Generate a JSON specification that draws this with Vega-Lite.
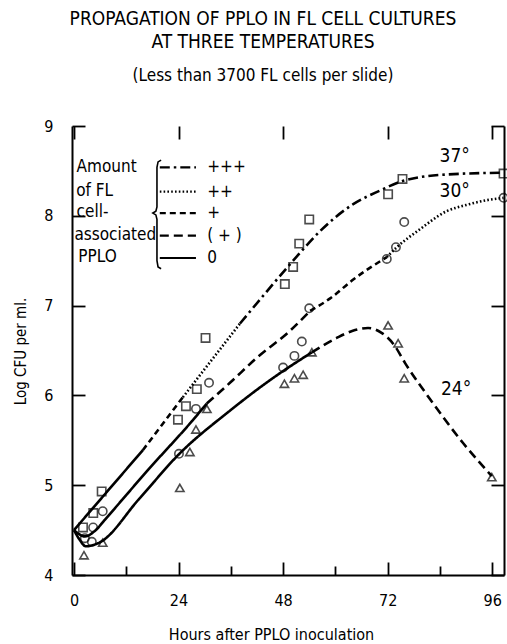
{
  "$schema": "https://vega.github.io/schema/vega-lite/v6.json",
  "width": 432,
  "height": 449,
  "autosize": {"type": "none"},
  "padding": {"left": 72, "top": 126, "right": 3, "bottom": 69},
  "background": "white",
  "config": {
    "view": {"stroke": null},
    "font": "Liberation Sans Narrow, DejaVu Sans Condensed, Liberation Sans"
  },
  "title": {
    "text": ["PROPAGATION OF PPLO IN FL CELL CULTURES", "AT THREE TEMPERATURES"],
    "subtitle": "(Less than 3700 FL cells per slide)",
    "anchor": "middle",
    "frame": "group",
    "dx": -25,
    "offset": 34,
    "font": "Liberation Sans Narrow, DejaVu Sans Condensed, Liberation Sans",
    "fontSize": 19,
    "fontWeight": "normal",
    "lineHeight": 23,
    "color": "black",
    "subtitleFont": "Liberation Sans Narrow, DejaVu Sans Condensed, Liberation Sans",
    "subtitleFontSize": 17,
    "subtitleColor": "black",
    "subtitlePadding": 16
  },
  "datasets": {
    "points": [
      {"temp": "37", "hours": 2.07, "logcfu": 4.53},
      {"temp": "37", "hours": 4.43, "logcfu": 4.69},
      {"temp": "37", "hours": 6.36, "logcfu": 4.93},
      {"temp": "37", "hours": 23.87, "logcfu": 5.73},
      {"temp": "37", "hours": 25.7, "logcfu": 5.88},
      {"temp": "37", "hours": 28.2, "logcfu": 6.07},
      {"temp": "37", "hours": 30.2, "logcfu": 6.64},
      {"temp": "37", "hours": 48.4, "logcfu": 7.24},
      {"temp": "37", "hours": 50.3, "logcfu": 7.43},
      {"temp": "37", "hours": 51.7, "logcfu": 7.69},
      {"temp": "37", "hours": 54.0, "logcfu": 7.96},
      {"temp": "37", "hours": 72.1, "logcfu": 8.24},
      {"temp": "37", "hours": 75.4, "logcfu": 8.41},
      {"temp": "37", "hours": 98.6, "logcfu": 8.47},
      {"temp": "30", "hours": 2.5, "logcfu": 4.41},
      {"temp": "30", "hours": 4.1, "logcfu": 4.37},
      {"temp": "30", "hours": 4.4, "logcfu": 4.53},
      {"temp": "30", "hours": 6.6, "logcfu": 4.71},
      {"temp": "30", "hours": 24.1, "logcfu": 5.35},
      {"temp": "30", "hours": 28.0, "logcfu": 5.85},
      {"temp": "30", "hours": 31.0, "logcfu": 6.14},
      {"temp": "30", "hours": 48.0, "logcfu": 6.31},
      {"temp": "30", "hours": 50.6, "logcfu": 6.44},
      {"temp": "30", "hours": 52.3, "logcfu": 6.6},
      {"temp": "30", "hours": 54.0, "logcfu": 6.97},
      {"temp": "30", "hours": 71.8, "logcfu": 7.52},
      {"temp": "30", "hours": 73.9, "logcfu": 7.65},
      {"temp": "30", "hours": 75.8, "logcfu": 7.93},
      {"temp": "30", "hours": 98.6, "logcfu": 8.2},
      {"temp": "24", "hours": 2.3, "logcfu": 4.22},
      {"temp": "24", "hours": 6.6, "logcfu": 4.36},
      {"temp": "24", "hours": 24.3, "logcfu": 4.97},
      {"temp": "24", "hours": 26.6, "logcfu": 5.37},
      {"temp": "24", "hours": 28.0, "logcfu": 5.62},
      {"temp": "24", "hours": 30.5, "logcfu": 5.85},
      {"temp": "24", "hours": 48.3, "logcfu": 6.13},
      {"temp": "24", "hours": 50.6, "logcfu": 6.19},
      {"temp": "24", "hours": 52.6, "logcfu": 6.23},
      {"temp": "24", "hours": 54.6, "logcfu": 6.48},
      {"temp": "24", "hours": 72.1, "logcfu": 6.78},
      {"temp": "24", "hours": 74.4, "logcfu": 6.58},
      {"temp": "24", "hours": 75.8, "logcfu": 6.19},
      {"temp": "24", "hours": 95.9, "logcfu": 5.09}
    ],
    "curves": [
      {"seg": "37a", "style": "0", "hours": 0, "logcfu": 4.5},
      {"seg": "37a", "style": "0", "hours": 15.8, "logcfu": 5.39},
      {"seg": "37b", "style": "+", "hours": 15.8, "logcfu": 5.39},
      {"seg": "37b", "style": "+", "hours": 25.0, "logcfu": 5.98},
      {"seg": "37c", "style": "++", "hours": 25.0, "logcfu": 5.98},
      {"seg": "37c", "style": "++", "hours": 38.1, "logcfu": 6.8},
      {"seg": "37d", "style": "+++", "hours": 38.1, "logcfu": 6.8},
      {"seg": "37d", "style": "+++", "hours": 45.0, "logcfu": 7.2},
      {"seg": "37d", "style": "+++", "hours": 50.3, "logcfu": 7.5},
      {"seg": "37d", "style": "+++", "hours": 56.5, "logcfu": 7.83},
      {"seg": "37d", "style": "+++", "hours": 64.1, "logcfu": 8.13},
      {"seg": "37d", "style": "+++", "hours": 70.2, "logcfu": 8.28},
      {"seg": "37d", "style": "+++", "hours": 75.6, "logcfu": 8.39},
      {"seg": "37d", "style": "+++", "hours": 85.5, "logcfu": 8.46},
      {"seg": "37d", "style": "+++", "hours": 98.6, "logcfu": 8.48},
      {"seg": "30a", "style": "0", "hours": 0, "logcfu": 4.5},
      {"seg": "30a", "style": "0", "hours": 2.5, "logcfu": 4.43},
      {"seg": "30a", "style": "0", "hours": 5.0, "logcfu": 4.5},
      {"seg": "30a", "style": "0", "hours": 7.0, "logcfu": 4.61},
      {"seg": "30a", "style": "0", "hours": 17.0, "logcfu": 5.17},
      {"seg": "30a", "style": "0", "hours": 27.2, "logcfu": 5.72},
      {"seg": "30a", "style": "0", "hours": 30.5, "logcfu": 5.91},
      {"seg": "30b", "style": "(+)", "hours": 30.5, "logcfu": 5.91},
      {"seg": "30b", "style": "(+)", "hours": 35.8, "logcfu": 6.14},
      {"seg": "30b", "style": "(+)", "hours": 42.0, "logcfu": 6.42},
      {"seg": "30b", "style": "(+)", "hours": 49.6, "logcfu": 6.72},
      {"seg": "30b", "style": "(+)", "hours": 54.2, "logcfu": 6.94},
      {"seg": "30c", "style": "+", "hours": 54.2, "logcfu": 6.94},
      {"seg": "30c", "style": "+", "hours": 58.8, "logcfu": 7.08},
      {"seg": "30c", "style": "+", "hours": 64.1, "logcfu": 7.29},
      {"seg": "30c", "style": "+", "hours": 71.8, "logcfu": 7.54},
      {"seg": "30d", "style": "++", "hours": 71.8, "logcfu": 7.54},
      {"seg": "30d", "style": "++", "hours": 74.1, "logcfu": 7.65},
      {"seg": "30d", "style": "++", "hours": 79.4, "logcfu": 7.85},
      {"seg": "30d", "style": "++", "hours": 85.5, "logcfu": 8.05},
      {"seg": "30d", "style": "++", "hours": 90.0, "logcfu": 8.12},
      {"seg": "30d", "style": "++", "hours": 95.5, "logcfu": 8.18},
      {"seg": "30d", "style": "++", "hours": 98.6, "logcfu": 8.2},
      {"seg": "24a", "style": "0", "hours": 0, "logcfu": 4.5},
      {"seg": "24a", "style": "0", "hours": 1.2, "logcfu": 4.4},
      {"seg": "24a", "style": "0", "hours": 2.75, "logcfu": 4.32},
      {"seg": "24a", "style": "0", "hours": 5.8, "logcfu": 4.36},
      {"seg": "24a", "style": "0", "hours": 15.0, "logcfu": 4.85},
      {"seg": "24a", "style": "0", "hours": 24.2, "logcfu": 5.35},
      {"seg": "24a", "style": "0", "hours": 35.8, "logcfu": 5.83},
      {"seg": "24a", "style": "0", "hours": 45.0, "logcfu": 6.17},
      {"seg": "24a", "style": "0", "hours": 54.6, "logcfu": 6.48},
      {"seg": "24b", "style": "(+)", "hours": 54.6, "logcfu": 6.48},
      {"seg": "24b", "style": "(+)", "hours": 60.3, "logcfu": 6.64},
      {"seg": "24b", "style": "(+)", "hours": 64.0, "logcfu": 6.72},
      {"seg": "24b", "style": "(+)", "hours": 67.5, "logcfu": 6.75},
      {"seg": "24b", "style": "(+)", "hours": 70.5, "logcfu": 6.7},
      {"seg": "24b", "style": "(+)", "hours": 73.5, "logcfu": 6.56},
      {"seg": "24b", "style": "(+)", "hours": 76.0, "logcfu": 6.36},
      {"seg": "24b", "style": "(+)", "hours": 81.7, "logcfu": 5.96},
      {"seg": "24b", "style": "(+)", "hours": 89.3, "logcfu": 5.47},
      {"seg": "24b", "style": "(+)", "hours": 95.9, "logcfu": 5.1}
    ],
    "legendLines": [
      {"style": "+++", "hours": 19.7, "logcfu": 8.54},
      {"style": "+++", "hours": 28.0, "logcfu": 8.54},
      {"style": "++", "hours": 19.7, "logcfu": 8.27},
      {"style": "++", "hours": 28.0, "logcfu": 8.27},
      {"style": "+", "hours": 19.7, "logcfu": 8.03},
      {"style": "+", "hours": 28.0, "logcfu": 8.03},
      {"style": "(+)", "hours": 19.7, "logcfu": 7.78},
      {"style": "(+)", "hours": 28.0, "logcfu": 7.78},
      {"style": "0", "hours": 19.7, "logcfu": 7.53},
      {"style": "0", "hours": 28.0, "logcfu": 7.53}
    ],
    "brace": [
      {"o": 1, "hours": 20.0, "logcfu": 8.62},
      {"o": 2, "hours": 19.3, "logcfu": 8.6},
      {"o": 3, "hours": 19.05, "logcfu": 8.54},
      {"o": 4, "hours": 19.05, "logcfu": 8.1},
      {"o": 5, "hours": 18.8, "logcfu": 8.05},
      {"o": 6, "hours": 18.1, "logcfu": 8.03},
      {"o": 7, "hours": 18.8, "logcfu": 8.01},
      {"o": 8, "hours": 19.05, "logcfu": 7.96},
      {"o": 9, "hours": 19.05, "logcfu": 7.5},
      {"o": 10, "hours": 19.3, "logcfu": 7.43},
      {"o": 11, "hours": 20.0, "logcfu": 7.41}
    ],
    "labels": [
      {"t": "Amount", "hours": 0.6, "logcfu": 8.54},
      {"t": "of FL", "hours": 0.5, "logcfu": 8.28},
      {"t": "cell-", "hours": 0.6, "logcfu": 8.04},
      {"t": "associated", "hours": 0.1, "logcfu": 7.79},
      {"t": "PPLO", "hours": 1.0, "logcfu": 7.54},
      {"t": "+++", "hours": 30.6, "logcfu": 8.54},
      {"t": "++", "hours": 30.6, "logcfu": 8.27},
      {"t": "+", "hours": 30.6, "logcfu": 8.03},
      {"t": "( + )", "hours": 30.6, "logcfu": 7.78},
      {"t": "0", "hours": 30.6, "logcfu": 7.53}
    ],
    "temps": [
      {"t": "37°", "hours": 87.4, "logcfu": 8.67},
      {"t": "30°", "hours": 87.4, "logcfu": 8.28},
      {"t": "24°", "hours": 87.7, "logcfu": 6.07}
    ]
  },
  "resolve": {"axis": {"x": "independent", "y": "independent"}},
  "layer": [
    {
      "data": {"name": "points"},
      "mark": {"type": "point", "filled": false, "stroke": "black", "strokeWidth": 1.6, "size": 70},
      "encoding": {
        "x": {
          "field": "hours", "type": "quantitative",
          "scale": {"domain": [-0.45, 98.7], "nice": false, "zero": false},
          "axis": {
            "orient": "bottom",
            "values": [0, 12, 24, 36, 48, 60, 72, 84, 96],
            "labelExpr": "datum.value % 24 === 0 ? datum.label : ''",
            "tickSize": {"condition": {"test": "datum.value % 24 === 0", "value": -13}, "value": -9},
            "tickColor": "black", "tickWidth": 1.8,
            "domainColor": "black", "domainWidth": 2,
            "grid": false,
            "labelPadding": 30,
            "labelFontSize": 16, "labelColor": "black",
            "labelFont": "Liberation Sans Narrow, DejaVu Sans Condensed, Liberation Sans",
            "labelFlush": false,
            "title": "Hours after PPLO inoculation",
            "titleFontSize": 16, "titleFontWeight": "normal", "titleColor": "black",
            "titleFont": "Liberation Sans Narrow, DejaVu Sans Condensed, Liberation Sans",
            "titleX": 199, "titleY": 59, "titleBaseline": "middle", "titleAlign": "center"
          }
        },
        "y": {
          "field": "logcfu", "type": "quantitative",
          "scale": {"domain": [4, 9], "nice": false, "zero": false},
          "axis": {
            "orient": "left",
            "values": [4, 5, 6, 7, 8, 9],
            "tickSize": -13,
            "tickColor": "black", "tickWidth": 1.8,
            "domainColor": "black", "domainWidth": 2,
            "grid": false,
            "labelPadding": 32,
            "labelFontSize": 16, "labelColor": "black",
            "labelFont": "Liberation Sans Narrow, DejaVu Sans Condensed, Liberation Sans",
            "labelFlush": false,
            "title": "Log CFU per ml.",
            "titleFontSize": 15, "titleFontWeight": "normal", "titleColor": "black",
            "titleFont": "Liberation Sans Narrow, DejaVu Sans Condensed, Liberation Sans",
            "titleX": -52, "titleY": 225, "titleAngle": -90, "titleBaseline": "middle", "titleAlign": "center"
          }
        },
        "shape": {
          "field": "temp", "type": "nominal",
          "scale": {"domain": ["37", "30", "24"], "range": ["square", "circle", "triangle-up"]},
          "legend": null
        }
      }
    },
    {
      "data": {"name": "curves"},
      "mark": {"type": "line", "interpolate": "monotone", "color": "black", "strokeWidth": 2.6},
      "encoding": {
        "x": {"field": "hours", "type": "quantitative", "axis": {"orient": "top", "values": [0, 24, 48, 72, 96], "labels": false, "domain": false, "tickSize": -13, "tickColor": "black", "tickWidth": 1.8, "grid": false, "title": null}},
        "y": {"field": "logcfu", "type": "quantitative", "axis": {"orient": "right", "values": [4, 5, 6, 7, 8, 9], "labels": false, "domain": true, "domainColor": "black", "domainWidth": 2, "tickSize": -13, "tickColor": "black", "tickWidth": 1.8, "grid": false, "title": null}},
        "detail": {"field": "seg", "type": "nominal"},
        "strokeDash": {
          "field": "style", "type": "nominal",
          "scale": {"domain": ["0", "(+)", "+", "++", "+++"], "range": [[1, 0], [9, 5], [6, 4], [1.6, 2.2], [10, 4, 2.5, 4]]},
          "legend": null
        }
      }
    },
    {
      "data": {"name": "legendLines"},
      "mark": {"type": "line", "color": "black", "strokeWidth": 2.2},
      "encoding": {
        "x": {"field": "hours", "type": "quantitative", "axis": null},
        "y": {"field": "logcfu", "type": "quantitative", "axis": null},
        "detail": {"field": "style", "type": "nominal"},
        "strokeDash": {
          "field": "style", "type": "nominal",
          "scale": {"domain": ["0", "(+)", "+", "++", "+++"], "range": [[1, 0], [9, 5], [6, 4], [1.6, 2.2], [10, 4, 2.5, 4]]},
          "legend": null
        }
      }
    },
    {
      "data": {"name": "brace"},
      "mark": {"type": "line", "color": "black", "strokeWidth": 1.6},
      "encoding": {
        "x": {"field": "hours", "type": "quantitative", "axis": null},
        "y": {"field": "logcfu", "type": "quantitative", "axis": null},
        "order": {"field": "o", "type": "quantitative"}
      }
    },
    {
      "data": {"name": "labels"},
      "mark": {"type": "text", "align": "left", "baseline": "middle", "fontSize": 17, "color": "black", "font": "Liberation Sans Narrow, DejaVu Sans Condensed, Liberation Sans"},
      "encoding": {
        "x": {"field": "hours", "type": "quantitative", "axis": null},
        "y": {"field": "logcfu", "type": "quantitative", "axis": null},
        "text": {"field": "t", "type": "nominal"}
      }
    },
    {
      "data": {"name": "temps"},
      "mark": {"type": "text", "align": "center", "baseline": "middle", "fontSize": 19, "color": "black", "font": "Liberation Sans Narrow, DejaVu Sans Condensed, Liberation Sans"},
      "encoding": {
        "x": {"field": "hours", "type": "quantitative", "axis": null},
        "y": {"field": "logcfu", "type": "quantitative", "axis": null},
        "text": {"field": "t", "type": "nominal"}
      }
    }
  ]
}
